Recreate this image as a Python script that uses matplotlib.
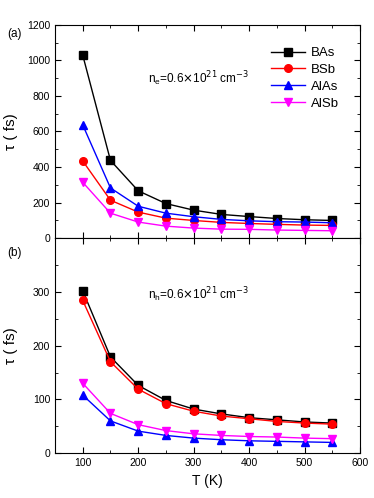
import matplotlib
matplotlib.use("Agg")
import matplotlib.pyplot as plt
from matplotlib.ticker import MultipleLocator

plt.rcParams['font.family'] = ['Liberation Sans', 'DejaVu Sans']

T = [100, 150, 200, 250, 300, 350, 400, 450, 500, 550]

# electrons (a)
bas_e = [1030, 437, 266, 194, 157, 133, 121, 110, 103, 99]
bsb_e = [434, 213, 146, 112, 99, 88, 82, 77, 73, 71]
alas_e = [637, 282, 179, 140, 120, 105, 97, 92, 90, 86]
alsb_e = [314, 140, 90, 67, 56, 50, 49, 45, 43, 41]

# holes (b)
bas_h = [302, 179, 126, 98, 82, 73, 66, 62, 58, 56]
bsb_h = [284, 170, 119, 92, 78, 69, 64, 59, 56, 54]
alas_h = [108, 60, 41, 33, 28, 25, 23, 22, 21, 20]
alsb_h = [130, 74, 53, 42, 36, 33, 31, 30, 28, 27]

names = ['BAs', 'BSb', 'AlAs', 'AlSb']
colors = ['black', 'red', 'blue', 'magenta']
markers = ['s', 'o', '^', 'v']

fig = plt.figure(figsize=(3.74, 4.98), dpi=100)
ax1 = fig.add_axes([0.147, 0.522, 0.816, 0.428])
ax2 = fig.add_axes([0.147, 0.090, 0.816, 0.432])

for s, nm, c, m in zip([bas_e, bsb_e, alas_e, alsb_e], names, colors, markers):
    ax1.plot(T, s, color=c, marker=m, markersize=5.5, lw=1, label=nm)
for s, nm, c, m in zip([bas_h, bsb_h, alas_h, alsb_h], names, colors, markers):
    ax2.plot(T, s, color=c, marker=m, markersize=5.5, lw=1, label=nm)

ax1.set_ylim(0, 1200)
ax1.yaxis.set_major_locator(MultipleLocator(200))
ax1.yaxis.set_minor_locator(MultipleLocator(100))
ax2.set_ylim(0, 400)
ax2.set_yticks([0, 100, 200, 300])
ax2.yaxis.set_minor_locator(MultipleLocator(50))

for ax in (ax1, ax2):
    ax.set_xlim(50, 600)
    ax.xaxis.set_major_locator(MultipleLocator(100))
    ax.xaxis.set_minor_locator(MultipleLocator(50))
    ax.tick_params(which='both', direction='in', top=True, right=True, labelsize=7.5)
    ax.tick_params(which='major', length=4)
    ax.tick_params(which='minor', length=2)
    ax.set_ylabel('\u03c4 ( fs)', fontsize=11)
    ax.yaxis.set_label_coords(-0.12, 0.5)

ax1.tick_params(axis='x', labelbottom=False)
ax2.set_xlabel('T (K)', fontsize=10)

ax1.text(0.305, 0.746, r'n$_\mathregular{e}$=0.6$\times$10$^{21}$ cm$^{-3}$',
         transform=ax1.transAxes, fontsize=8.5, va='center')
ax2.text(0.305, 0.735, r'n$_\mathregular{h}$=0.6$\times$10$^{21}$ cm$^{-3}$',
         transform=ax2.transAxes, fontsize=8.5, va='center')
fig.text(0.02, 0.925, '(a)', fontsize=8.5)
fig.text(0.02, 0.485, '(b)', fontsize=8.5)

ax1.legend(loc='upper right', frameon=False, fontsize=9.5, handlelength=2.6,
           handletextpad=0.4, borderaxespad=0.3, labelspacing=0.35,
           bbox_to_anchor=(0.96, 0.94))

fig.savefig('out.png', dpi=100)
